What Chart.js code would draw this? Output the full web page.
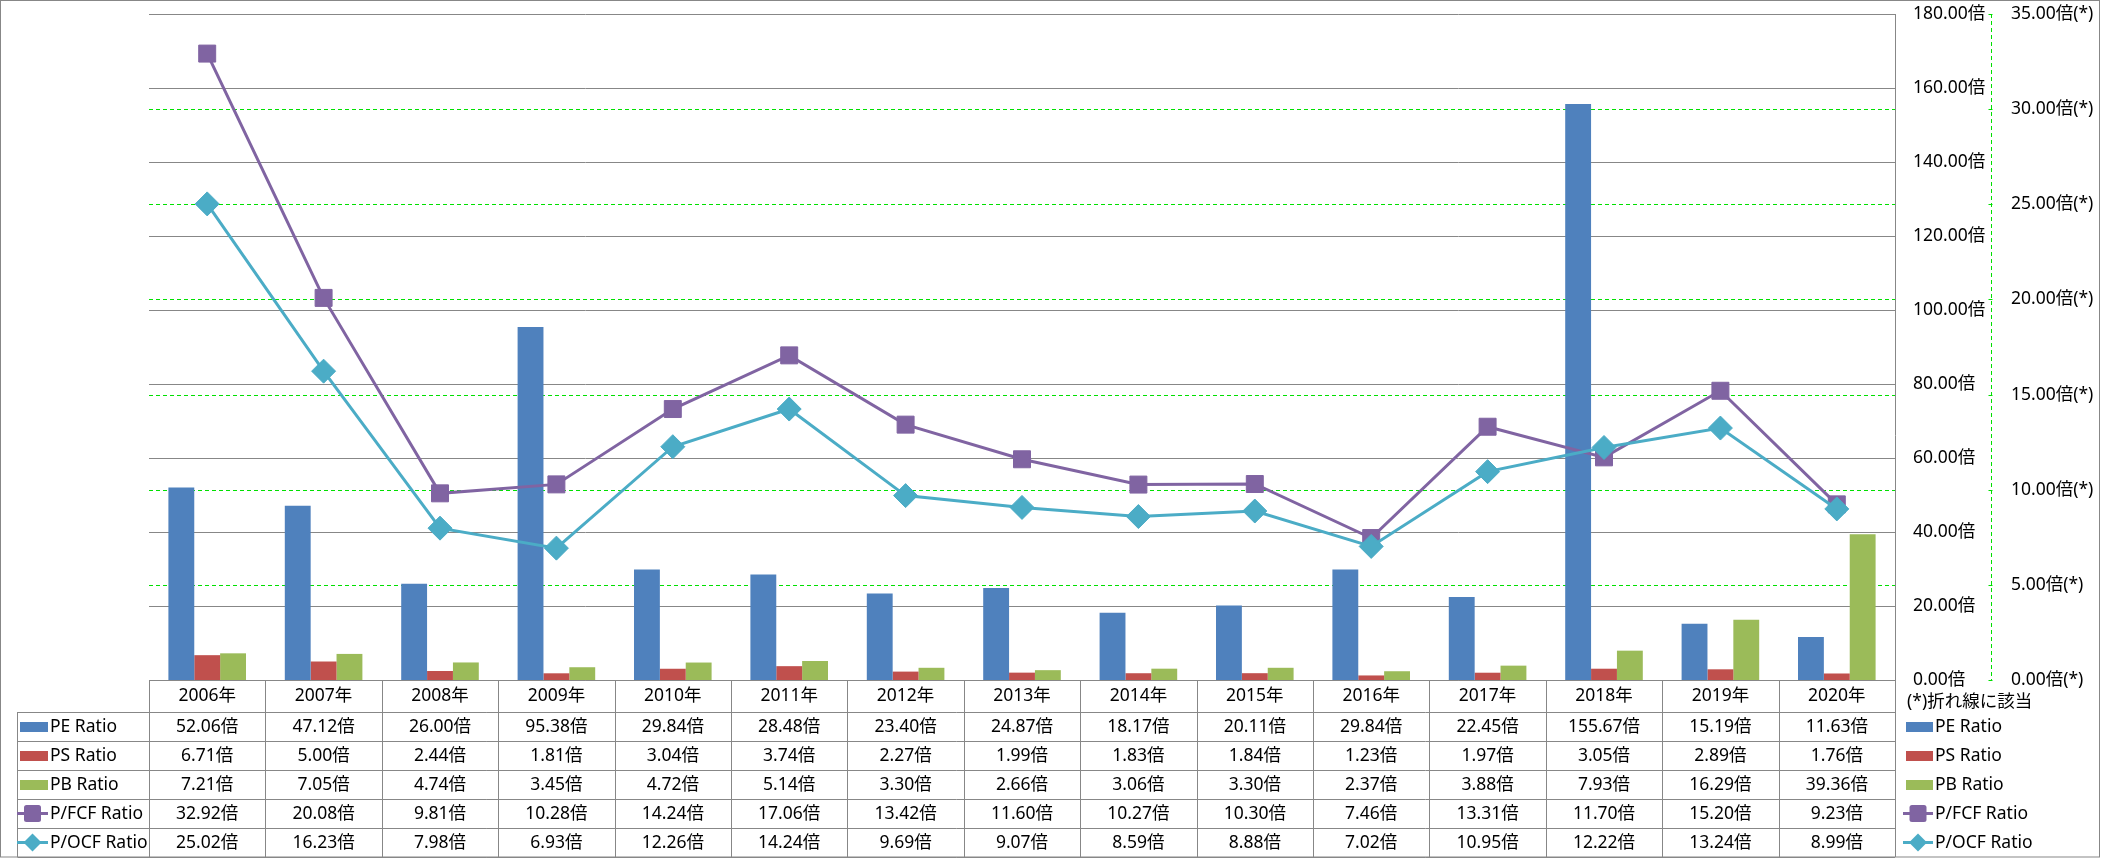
<!DOCTYPE html>
<html>
<head>
<meta charset="utf-8">
<script src="https://cdn.jsdelivr.net/npm/chart.js@4/dist/chart.umd.min.js"></script>
<style>
html,body{margin:0;padding:0;background:#fff;overflow:hidden}
#wrap{position:relative;width:2101px;height:858px}
canvas{display:block}
</style>
</head>
<body>
<div id="wrap"><canvas id="c" width="2101" height="858"></canvas></div>
<script>
// ---- data ----
const categories = ['2006年','2007年','2008年','2009年','2010年','2011年','2012年','2013年','2014年','2015年','2016年','2017年','2018年','2019年','2020年'];
const peRatio   = [52.06, 47.12, 26.00, 95.38, 29.84, 28.48, 23.40, 24.87, 18.17, 20.11, 29.84, 22.45, 155.67, 15.19, 11.63];
const psRatio   = [6.71, 5.00, 2.44, 1.81, 3.04, 3.74, 2.27, 1.99, 1.83, 1.84, 1.23, 1.97, 3.05, 2.89, 1.76];
const pbRatio   = [7.21, 7.05, 4.74, 3.45, 4.72, 5.14, 3.30, 2.66, 3.06, 3.30, 2.37, 3.88, 7.93, 16.29, 39.36];
const pfcfRatio = [32.92, 20.08, 9.81, 10.28, 14.24, 17.06, 13.42, 11.60, 10.27, 10.30, 7.46, 13.31, 11.70, 15.20, 9.23];
const pocfRatio = [25.02, 16.23, 7.98, 6.93, 12.26, 14.24, 9.69, 9.07, 8.59, 8.88, 7.02, 10.95, 12.22, 13.24, 8.99];
const seriesNames = ['PE Ratio', 'PS Ratio', 'PB Ratio', 'P/FCF Ratio', 'P/OCF Ratio'];
const primaryMax = 180, primaryStep = 20;
const secondaryMax = 35, secondaryStep = 5;
const unitLabel = '倍';
const secondaryUnitLabel = '倍(*)';
const footnoteText = '(*)折れ線に該当';

// ---- style ----
const FONT_FAMILY = '"Noto Sans", "Noto Sans CJK JP", sans-serif';
const FONT_SIZE = 17.5;
const GRAY = '#878787';
const GREEN = '#00E000';
const barColors = ['#4F81BD', '#C0504D', '#9BBB59'];
const lineColors = ['#8064A2', '#4BACC6'];
const seriesValues = [peRatio, psRatio, pbRatio, pfcfRatio, pocfRatio];
const seriesKinds = ['bar', 'bar', 'bar', 'square', 'diamond'];
const seriesColors = [barColors[0], barColors[1], barColors[2], lineColors[0], lineColors[1]];

// layout targets
const AREA_TOP = 14, AREA_BOTTOM = 680;
const CAT_ROW_TOP = 680, CAT_ROW_BOTTOM = 712;
const ROW_H = 29;
const LEGEND_COL_LEFT = 16.5;

function hline(ctx, x1, x2, y) { ctx.beginPath(); ctx.moveTo(x1, y); ctx.lineTo(x2, y); ctx.stroke(); }
function vline(ctx, x, y1, y2) { ctx.beginPath(); ctx.moveTo(x, y1); ctx.lineTo(x, y2); ctx.stroke(); }

function drawLegendSymbol(ctx, kind, color, xLeft, xRight, yc) {
  ctx.save();
  if (kind === 'bar') {
    ctx.fillStyle = color;
    ctx.fillRect(xLeft + 3, Math.round(yc) - 5, (xRight - xLeft) - 3, 10);
  } else {
    const cx = (xLeft + xRight) / 2;
    ctx.strokeStyle = color; ctx.lineWidth = 3;
    hline(ctx, xLeft, xRight, yc);
    ctx.fillStyle = color;
    if (kind === 'square') {
      ctx.beginPath();
      if (ctx.roundRect) ctx.roundRect(cx - 8.5, yc - 8.5, 17, 17, 2.5); else ctx.rect(cx - 8.5, yc - 8.5, 17, 17);
      ctx.fill();
    } else {
      ctx.beginPath();
      ctx.moveTo(cx, yc - 9); ctx.lineTo(cx + 9, yc); ctx.lineTo(cx, yc + 9); ctx.lineTo(cx - 9, yc); ctx.closePath();
      ctx.fill();
    }
  }
  ctx.restore();
}

const excelDecor = {
  id: 'excelDecor',
  beforeDraw(chart) {
    const ctx = chart.ctx;
    ctx.save();
    ctx.fillStyle = '#fff';
    ctx.fillRect(0, 0, chart.width, chart.height);
    ctx.restore();
  },
  beforeDatasetsDraw(chart) {
    const {ctx, chartArea: a, scales} = chart;
    const y = scales.y, y2 = scales.y2;
    ctx.save();
    ctx.lineWidth = 1;
    ctx.strokeStyle = GREEN;
    ctx.setLineDash([4, 3]);
    y2.ticks.forEach(t => {
      if (t.value <= y2.min || t.value >= y2.max) return;
      const py = Math.round(y2.getPixelForValue(t.value)) + 0.5;
      hline(ctx, a.left, a.right, py);
    });
    const ax = Math.round(y2.left) + 0.5;
    vline(ctx, ax, a.top, a.bottom);
    ctx.setLineDash([]);
    y2.ticks.forEach(t => {
      const py = Math.round(y2.getPixelForValue(t.value)) + 0.5;
      hline(ctx, ax - 3, ax + 1, py);
    });
    ctx.strokeStyle = GRAY;
    y.ticks.forEach(t => {
      const py = Math.round(y.getPixelForValue(t.value)) + 0.5;
      hline(ctx, a.left, a.right, py);
    });
    ctx.restore();
  },
  afterDraw(chart) {
    const {ctx, chartArea: a, scales} = chart;
    const x = scales.x;
    const n = categories.length;
    const colW = (a.right - a.left) / n;
    const tableBottom = CAT_ROW_BOTTOM + ROW_H * seriesNames.length;
    ctx.save();
    ctx.lineWidth = 1;
    ctx.strokeStyle = GRAY;
    ctx.strokeRect(0.5, 0.5, chart.width - 2, chart.height - 1.5);
    const rx = Math.round(a.right) + 0.5;
    vline(ctx, rx, a.top, tableBottom);
    for (let i = 0; i < n; i++) {
      const cx = Math.round(x.getPixelForValue(i) - colW / 2) + 0.5;
      vline(ctx, cx, CAT_ROW_TOP, tableBottom);
    }
    hline(ctx, a.left, a.right, CAT_ROW_TOP + 0.5);
    for (let r = 0; r <= seriesNames.length; r++) {
      const ry = CAT_ROW_BOTTOM + r * ROW_H + 0.5;
      hline(ctx, Math.round(LEGEND_COL_LEFT) + 0.5, a.right, ry);
    }
    vline(ctx, Math.round(LEGEND_COL_LEFT) + 0.5, CAT_ROW_BOTTOM, tableBottom);

    ctx.fillStyle = '#000';
    ctx.font = FONT_SIZE + 'px ' + FONT_FAMILY;
    ctx.textBaseline = 'middle';
    ctx.textAlign = 'center';
    const catY = (CAT_ROW_TOP + CAT_ROW_BOTTOM) / 2;
    categories.forEach((c, i) => ctx.fillText(c, x.getPixelForValue(i), catY + 0.5));
    seriesValues.forEach((vals, r) => {
      const yc = CAT_ROW_BOTTOM + r * ROW_H + ROW_H / 2;
      vals.forEach((v, i) => ctx.fillText(v.toFixed(2) + unitLabel, x.getPixelForValue(i), yc + 0.5));
    });
    ctx.textAlign = 'left';
    seriesNames.forEach((name, r) => {
      const yc = CAT_ROW_BOTTOM + r * ROW_H + ROW_H / 2;
      drawLegendSymbol(ctx, seriesKinds[r], seriesColors[r], 17, 48, yc);
      ctx.fillStyle = '#000';
      ctx.fillText(name, 50, yc + 0.5);
    });
    ctx.fillText(footnoteText, 1907, 702);
    seriesNames.forEach((name, r) => {
      const yc = CAT_ROW_BOTTOM + r * ROW_H + ROW_H / 2;
      drawLegendSymbol(ctx, seriesKinds[r], seriesColors[r], 1903, 1933, yc);
      ctx.fillStyle = '#000';
      ctx.fillText(name, 1935, yc + 0.5);
    });
    ctx.restore();
  }
};

const tickFont = { family: FONT_FAMILY, size: FONT_SIZE };
function noPad(s) { s.paddingTop = 0; s.paddingBottom = 0; }

const chart = new Chart(document.getElementById('c'), {
  type: 'bar',
  data: {
    labels: categories,
    datasets: [
      { type: 'bar', label: seriesNames[0], data: peRatio, yAxisID: 'y', backgroundColor: barColors[0], borderWidth: 0, barPercentage: 1, categoryPercentage: 2/3, order: 2 },
      { type: 'bar', label: seriesNames[1], data: psRatio, yAxisID: 'y', backgroundColor: barColors[1], borderWidth: 0, barPercentage: 1, categoryPercentage: 2/3, order: 2 },
      { type: 'bar', label: seriesNames[2], data: pbRatio, yAxisID: 'y', backgroundColor: barColors[2], borderWidth: 0, barPercentage: 1, categoryPercentage: 2/3, order: 2 },
      { type: 'line', label: seriesNames[3], data: pfcfRatio, yAxisID: 'y2', borderColor: lineColors[0], backgroundColor: lineColors[0], borderWidth: 3, tension: 0, fill: false,
        pointStyle: 'rect', pointRadius: 12, pointBorderWidth: 1, pointBackgroundColor: lineColors[0], pointBorderColor: lineColors[0], order: 1 },
      { type: 'line', label: seriesNames[4], data: pocfRatio, yAxisID: 'y2', borderColor: lineColors[1], backgroundColor: lineColors[1], borderWidth: 3, tension: 0, fill: false,
        pointStyle: 'rectRot', pointRadius: 12, pointBorderWidth: 1, pointBackgroundColor: lineColors[1], pointBorderColor: lineColors[1], order: 0 }
    ]
  },
  options: {
    responsive: false,
    animation: false,
    devicePixelRatio: 1,
    layout: { padding: { left: 149, top: AREA_TOP, right: 0, bottom: 858 - AREA_BOTTOM } },
    plugins: { legend: { display: false }, tooltip: { enabled: false }, title: { display: false } },
    scales: {
      x: { type: 'category', display: false, offset: true, grid: { display: false } },
      y: {
        position: 'right', weight: 1, min: 0, max: primaryMax,
        grid: { display: false, drawTicks: false }, border: { display: false },
        ticks: { stepSize: primaryStep, color: '#000', font: tickFont, padding: 18,
          callback: v => v.toFixed(2) + unitLabel },
        afterFit: s => { s.width = 96; noPad(s); }
      },
      y2: {
        position: 'right', weight: 2, min: 0, max: secondaryMax,
        grid: { display: false, drawTicks: false }, border: { display: false },
        ticks: { stepSize: secondaryStep, color: '#000', font: tickFont, padding: 20,
          callback: v => v.toFixed(2) + secondaryUnitLabel },
        afterFit: s => { s.width = 110; noPad(s); }
      }
    }
  },
  plugins: [excelDecor]
});

// make the plot area land exactly on the reference's plot rectangle
for (let k = 0; k < 4; k++) {
  const dt = chart.chartArea.top - AREA_TOP;
  const db = chart.chartArea.bottom - AREA_BOTTOM;
  if (Math.abs(dt) < 0.25 && Math.abs(db) < 0.25) break;
  const p = chart.options.layout.padding;
  p.top = p.top - dt;
  p.bottom = p.bottom + db;
  chart.update();
}
</script>
</body>
</html>
